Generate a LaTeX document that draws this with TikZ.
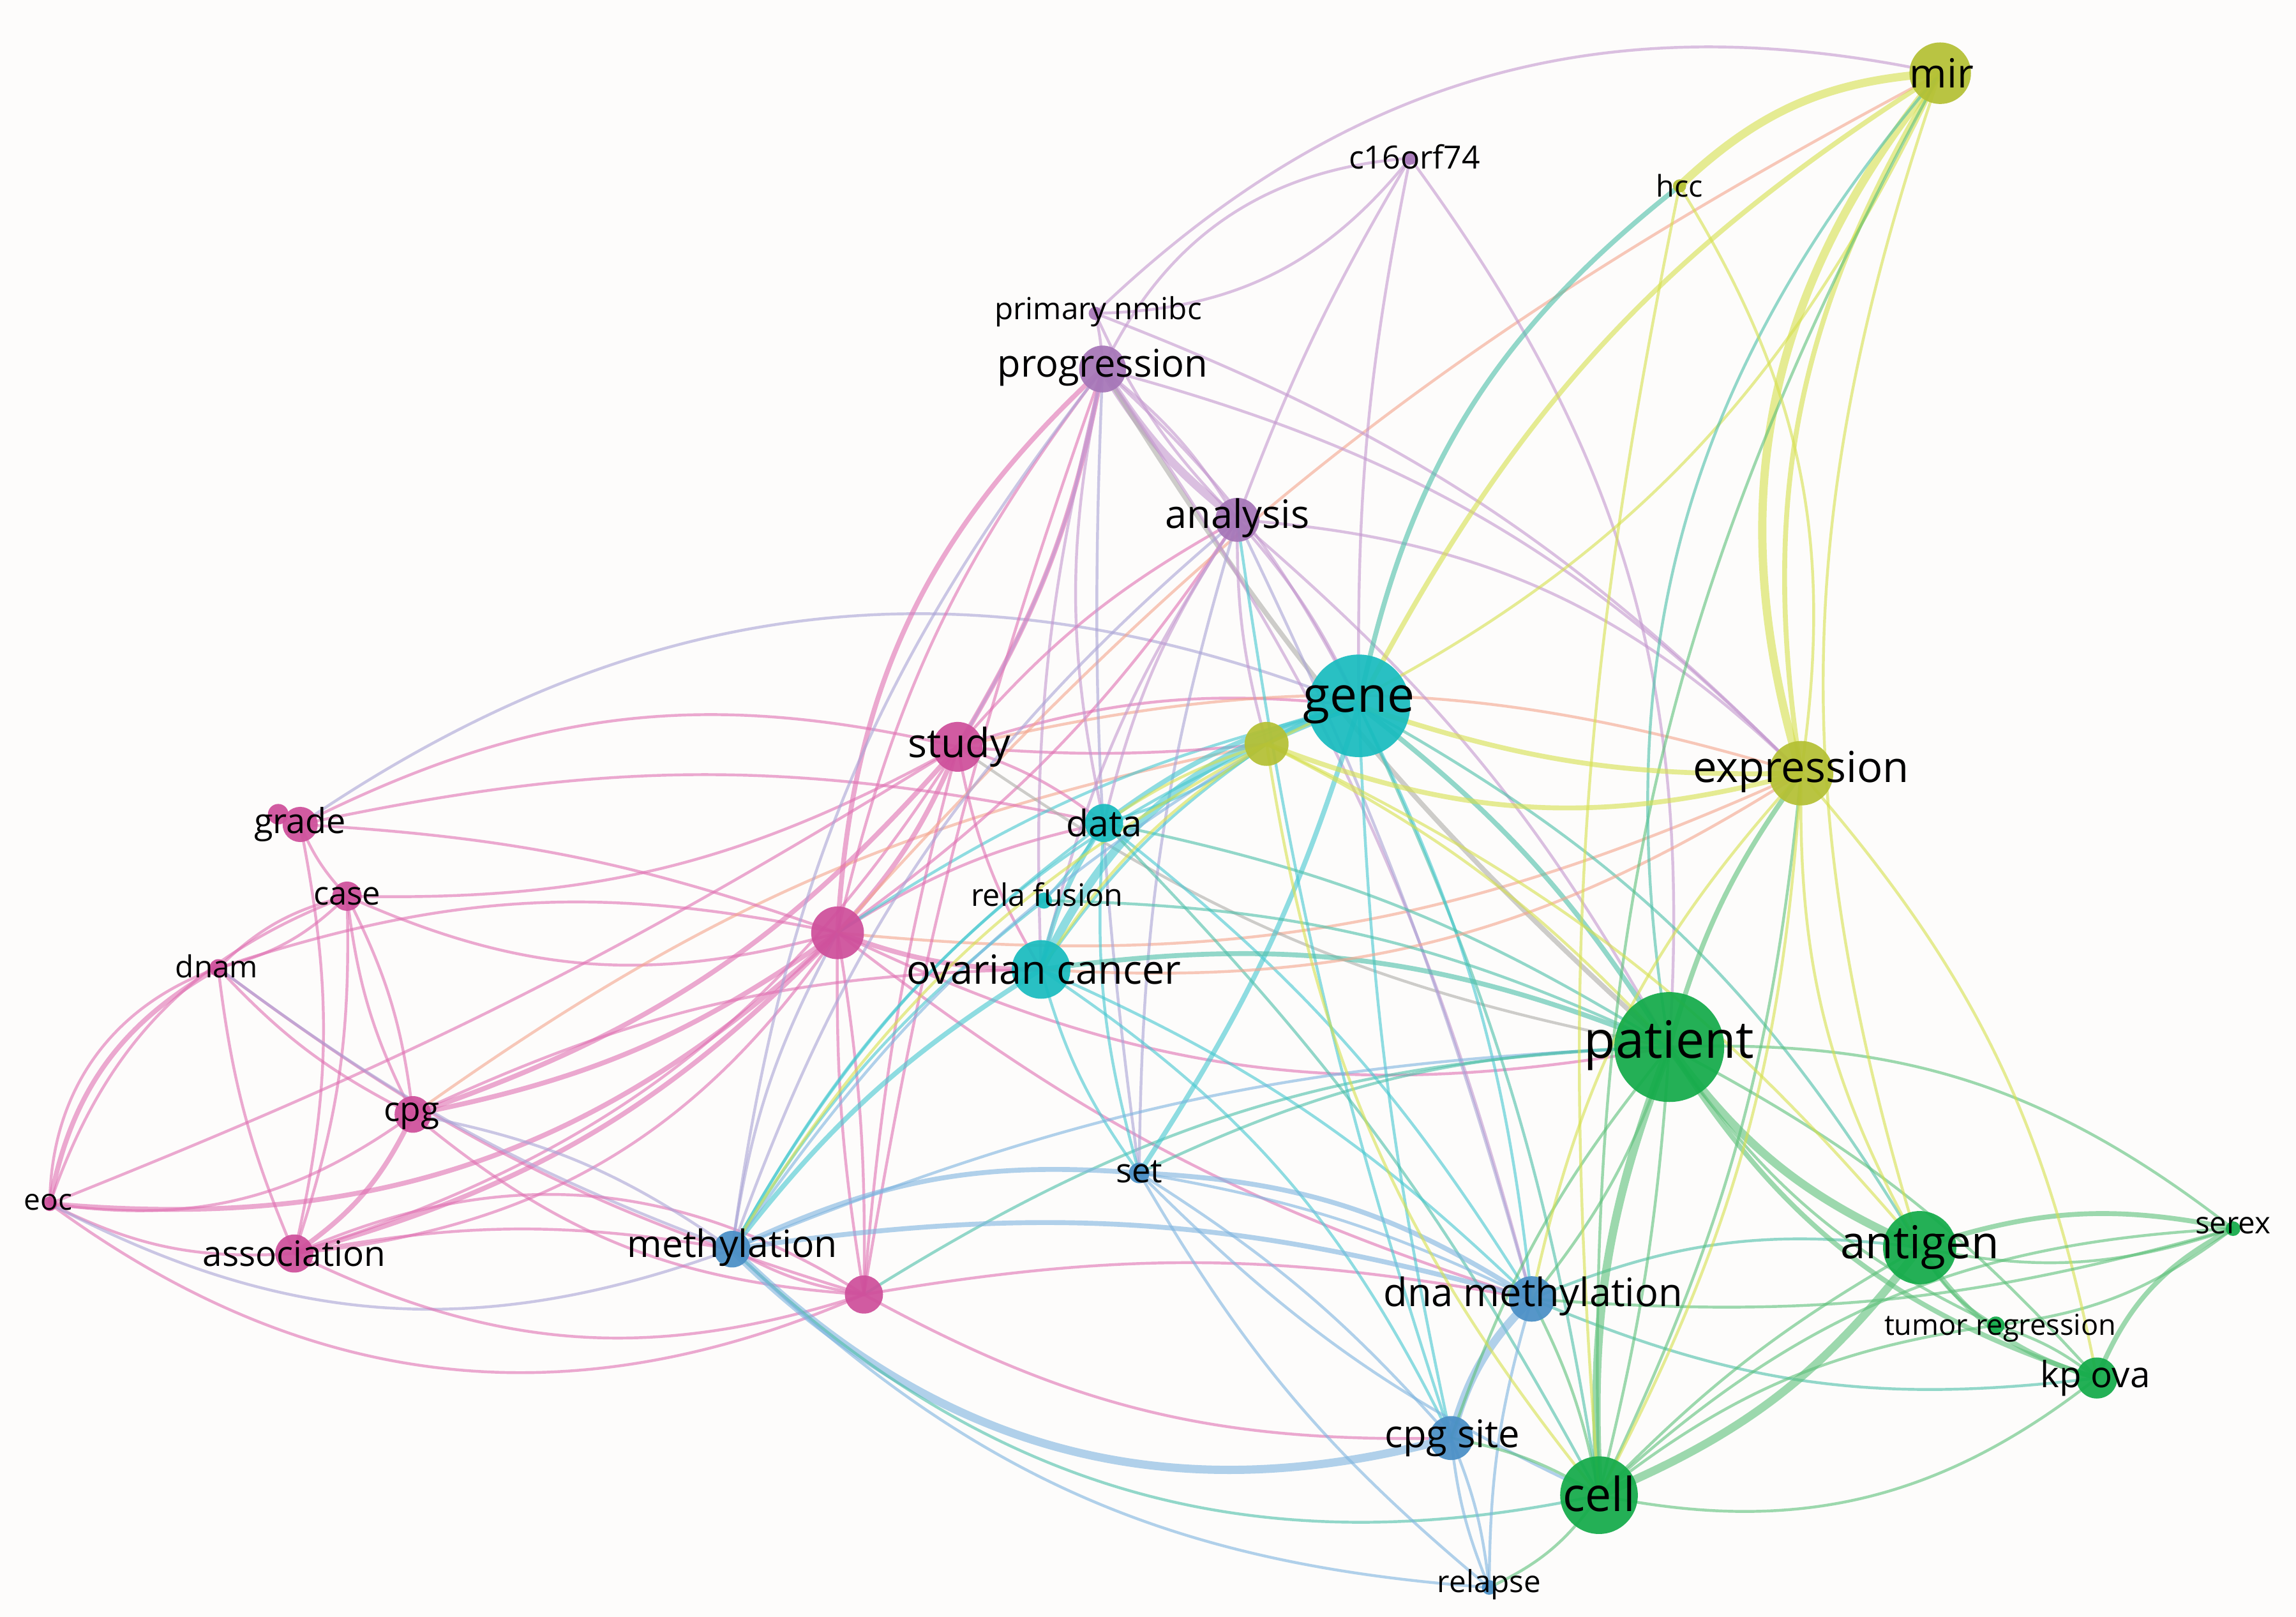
\documentclass[tikz,border=0pt]{standalone}
\usepackage{fontspec}
\setmainfont{Open Sans}
\definecolor{pinkN}{HTML}{CE4F9B}
\definecolor{purpN}{HTML}{A676B8}
\definecolor{cyanN}{HTML}{19BCBF}
\definecolor{blueN}{HTML}{4A8FC6}
\definecolor{greenN}{HTML}{14AB4A}
\definecolor{yellN}{HTML}{B4C034}
\definecolor{pinkE}{HTML}{E070B2}
\definecolor{purpE}{HTML}{C497CF}
\definecolor{cyanE}{HTML}{45C8D0}
\definecolor{blueE}{HTML}{7DB4DF}
\definecolor{greenE}{HTML}{5CC079}
\definecolor{yellE}{HTML}{D6E04C}
\definecolor{saE}{HTML}{F4A48C}
\definecolor{laE}{HTML}{A9A3D6}
\definecolor{teE}{HTML}{4CBFA8}
\definecolor{gyE}{HTML}{ADADA8}
\definecolor{bgC}{HTML}{FDFCFB}
\newcommand\ed[4][18]{\draw[edge,#2] (#3) to[bend right=#1] (#4);}
\newcommand\fs[1]{\fontsize{#1}{#1}\selectfont}
\begin{document}
\begin{tikzpicture}[x=0.01cm,y=-0.01cm,
  edge/.style={line width=0.55pt, opacity=0.6},
  w2/.style={line width=0.95pt},
  w3/.style={line width=1.6pt},
  pk/.style={draw=pinkE}, pu/.style={draw=purpE}, cy/.style={draw=cyanE},
  bl/.style={draw=blueE}, gr/.style={draw=greenE}, ye/.style={draw=yellE},
  sa/.style={draw=saE}, la/.style={draw=laE}, te/.style={draw=teE}, gy/.style={draw=gyE},
  nd/.style={circle, inner sep=0pt, opacity=0.93},
  lbl/.style={inner sep=0pt, text=black}]
\fill[bgC] (0,0) rectangle (1568,1104);
\useasboundingbox (0,0) rectangle (1568,1104);
% positions
\coordinate (mir) at (1325,50);
\coordinate (hcc) at (1147,127);
\coordinate (c16) at (963,108);
\coordinate (nmibc) at (748,214);
\coordinate (prog) at (753,252);
\coordinate (anal) at (845,355);
\coordinate (gene) at (928,482);
\coordinate (Y) at (865,508);
\coordinate (expr) at (1230,528);
\coordinate (study) at (654,510);
\coordinate (data) at (754,562);
\coordinate (grade) at (205,563);
\coordinate (grade2) at (190,556);
\coordinate (case) at (237,612);
\coordinate (dnam) at (149,661);
\coordinate (P1) at (572,637);
\coordinate (rela) at (713,615);
\coordinate (ovca) at (711,662);
\coordinate (patient) at (1140,715);
\coordinate (cpg) at (282,761);
\coordinate (eoc) at (34,822);
\coordinate (set) at (778,801);
\coordinate (meth) at (500,853);
\coordinate (assoc) at (201,856);
\coordinate (P2) at (590,884);
\coordinate (dnameth) at (1046,887);
\coordinate (antigen) at (1311,852);
\coordinate (serex) at (1525,839);
\coordinate (tumreg) at (1363,905);
\coordinate (kpova) at (1432,941);
\coordinate (cpgsite) at (991,982);
\coordinate (cell) at (1092,1021);
\coordinate (relapse) at (1017,1084);
% ---------- edges: pink cluster
\ed[25]{pk,w2}{dnam}{eoc}
\ed[35]{pk}{dnam}{eoc}
\ed[25]{pk}{case}{eoc}
\ed[5]{pk}{eoc}{study}
\ed[24]{pk,w2}{eoc}{P1}
\ed[22]{pk}{eoc}{cpg}
\ed[15]{pk}{eoc}{assoc}
\ed[30]{pk}{eoc}{P2}
\ed[24]{la}{eoc}{meth}
\ed[10]{pk}{grade}{case}
\ed[12]{pk}{assoc}{grade}
\ed[8]{pk}{dnam}{assoc}
\ed[10]{pk}{assoc}{case}
\ed[-10]{pk}{case}{cpg}
\ed[10]{pk}{case}{cpg}
\ed[10]{pk}{dnam}{cpg}
\ed[15]{pk}{case}{dnam}
\ed[15]{pk}{dnam}{case}
\ed[15]{pk,w2}{assoc}{cpg}
\ed[15]{pk,w2}{assoc}{P1}
\ed[25]{pk}{assoc}{P1}
\ed[12]{pk,w2}{cpg}{P1}
\ed[15]{pk,w2}{cpg}{study}
\ed[20]{pk}{assoc}{study}
\ed[20]{pk}{case}{P1}
\ed[15]{pk}{case}{study}
\ed[-15]{pk}{dnam}{P1}
\ed[10]{pk}{dnam}{P2}
\ed[8]{la}{dnam}{meth}
\ed[22]{pk}{assoc}{P2}
\ed[28]{pk}{P2}{assoc}
\ed[-10]{pk}{assoc}{meth}
\ed[-12]{la}{cpg}{meth}
\ed[18]{pk}{cpg}{P2}
\ed[-12]{sa}{cpg}{Y}
\ed[-12]{pk}{cpg}{ovca}
\ed[-20]{pk}{grade}{study}
\ed[-8]{pk}{grade}{P1}
\ed[-12]{pk}{grade}{data}
\ed[-28]{la}{grade}{gene}
\ed[10]{pk,w2}{P1}{study}
\ed[-5]{pk}{P1}{P2}
\ed[5]{pk}{P1}{P2}
\ed[22]{pk,w2}{prog}{P1}
\ed[12]{pk}{prog}{P1}
\ed[10]{pk}{P1}{anal}
\ed[10]{pk,w2}{P1}{ovca}
\ed[-10]{pk}{P1}{data}
\ed[-10]{cy}{P1}{gene}
\ed[15]{sa}{P1}{expr}
\ed[18]{pk}{P1}{patient}
\ed[10]{pk}{P1}{dnameth}
\ed[10]{la}{P1}{meth}
\ed[-10]{pk}{P2}{meth}
\ed[15]{pk}{P2}{cpgsite}
\ed[-15]{te}{P2}{patient}
\ed[-10]{pk}{P2}{dnameth}
\ed[5]{pk}{prog}{P2}
\ed[5]{pk}{study}{P2}
\ed[10]{pk,w2}{study}{prog}
\ed[-10]{pk}{study}{anal}
\ed[-12]{pk}{study}{gene}
\ed[5]{pk}{study}{Y}
\ed[-10]{pk}{study}{data}
\ed[10]{pk}{study}{ovca}
\ed[-15]{sa}{study}{expr}
\ed[12]{gy}{study}{patient}
\ed[10]{sa}{mir}{P1}
% ---------- purple
\ed[10]{pu,w3}{prog}{anal}
\ed[-10]{pu}{prog}{anal}
\ed[10]{pu}{nmibc}{anal}
\ed[5]{pu}{prog}{nmibc}
\ed[30]{pu}{c16}{prog}
\ed[25]{pu}{nmibc}{c16}
\ed[5]{pu}{c16}{anal}
\ed[6]{pu}{c16}{gene}
\ed[20]{pu}{patient}{c16}
\ed[28]{pu}{mir}{nmibc}
\ed[-10]{pu}{prog}{study}
\ed[12]{pu}{prog}{data}
\ed[8]{pu}{prog}{ovca}
\ed[-10]{pu}{prog}{gene}
\ed[8]{gy,w2}{prog}{patient}
\ed[-15]{pu}{prog}{expr}
\ed[-12]{pu}{nmibc}{expr}
\ed[15]{la}{prog}{meth}
\ed[5]{la}{prog}{set}
\ed[-10]{pu}{prog}{dnameth}
\ed[-8]{pu}{anal}{gene}
\ed[8]{pu}{anal}{Y}
\ed[10]{pu}{anal}{data}
\ed[10]{pu}{anal}{ovca}
\ed[15]{la}{anal}{meth}
\ed[8]{la}{anal}{set}
\ed[-10]{pu}{anal}{patient}
\ed[-20]{pu}{anal}{expr}
\ed[-5]{la}{anal}{dnameth}
\ed[5]{cy}{anal}{cpgsite}
% ---------- cyan
\ed[10]{cy,w2}{gene}{Y}
\ed[-10]{te,w2}{gene}{patient}
\ed[12]{cy,w2}{gene}{data}
\ed[25]{cy,w3}{gene}{ovca}
\ed[20]{cy}{gene}{meth}
\ed[-8]{cy,w2}{gene}{set}
\ed[-8]{te}{gene}{cell}
\ed[-10]{cy}{gene}{dnameth}
\ed[5]{cy}{gene}{cpgsite}
\ed[-15]{te}{gene}{antigen}
\ed[20]{te,w2}{hcc}{gene}
\ed[15]{ye,w2}{mir}{gene}
\ed[20]{ye}{Y}{mir}
\ed[10]{cy,w2}{data}{ovca}
\ed[10]{cy}{data}{Y}
\ed[-10]{te}{data}{patient}
\ed[10]{cy}{data}{set}
\ed[12]{cy}{data}{meth}
\ed[-10]{cy}{data}{dnameth}
\ed[-8]{te}{data}{cell}
\ed[-15]{te,w2}{ovca}{patient}
\ed[10]{cy,w2}{ovca}{meth}
\ed[10]{cy}{ovca}{set}
\ed[-10]{cy}{ovca}{dnameth}
\ed[-10]{cy}{ovca}{Y}
\ed[18]{sa}{ovca}{expr}
\ed[-15]{cy}{ovca}{cpgsite}
\ed[5]{cy}{rela}{data}
\ed[10]{cy}{rela}{meth}
\ed[12]{te}{patient}{rela}
% ---------- blue
\ed[-15]{bl,w2}{meth}{set}
\ed[-12]{bl,w2}{meth}{dnameth}
\ed[30]{bl,w3}{meth}{cpgsite}
\ed[28]{te}{meth}{cell}
\ed[-10]{bl}{meth}{patient}
\ed[20]{bl}{meth}{relapse}
\ed[-12]{bl}{meth}{Y}
\ed[-15]{bl,w2}{set}{dnameth}
\ed[-8]{bl}{set}{dnameth}
\ed[-8]{bl}{set}{cpgsite}
\ed[10]{bl}{set}{relapse}
\ed[-12]{te}{set}{patient}
\ed[10]{bl}{set}{cell}
\ed[15]{bl,w3}{dnameth}{cpgsite}
\ed[10]{gr}{dnameth}{patient}
\ed[-8]{gr}{dnameth}{cell}
\ed[8]{bl}{dnameth}{relapse}
\ed[-15]{te}{dnameth}{antigen}
\ed[15]{te}{dnameth}{kpova}
\ed[-8]{bl}{cpgsite}{relapse}
\ed[8]{bl}{cpgsite}{relapse}
\ed[-10]{gr}{cpgsite}{cell}
\ed[-10]{gr}{cpgsite}{patient}
\ed[15]{gr}{relapse}{cell}
% ---------- green
\ed[12]{gr,w3}{patient}{cell}
\ed[-5]{gr}{patient}{cell}
\ed[15]{gr,w3}{patient}{antigen}
\ed[20]{gr,w2}{patient}{kpova}
\ed[-10]{gr}{patient}{kpova}
\ed[15]{gr}{patient}{tumreg}
\ed[-20]{gr}{patient}{serex}
\ed[10]{gr,w2}{expr}{patient}
\ed[-10]{ye}{Y}{patient}
\ed[15]{gr,w3}{cell}{antigen}
\ed[8]{gr}{antigen}{cell}
\ed[20]{gr,w2}{antigen}{kpova}
\ed[-15]{gr,w2}{antigen}{serex}
\ed[15]{gr}{antigen}{serex}
\ed[15]{gr}{antigen}{tumreg}
\ed[25]{gr}{cell}{kpova}
\ed[-15]{gr}{cell}{tumreg}
\ed[10]{gr}{cell}{expr}
\ed[-20]{gr,w2}{kpova}{serex}
\ed[15]{gr}{tumreg}{serex}
\ed[10]{gr}{kpova}{tumreg}
\ed[15]{ye}{kpova}{expr}
\ed[-20]{gr}{cell}{serex}
\ed[10]{gr}{dnameth}{serex}
% ---------- yellow
\ed[28]{ye,w3}{mir}{expr}
\ed[20]{ye,w2}{mir}{expr}
\ed[15]{gr}{mir}{cell}
\ed[18]{ye}{mir}{antigen}
\ed[25]{te}{mir}{patient}
\ed[20]{ye,w3}{mir}{hcc}
\ed[20]{ye}{expr}{hcc}
\ed[8]{ye}{hcc}{cell}
\ed[18]{ye,w2}{Y}{expr}
\ed[10]{ye,w2}{gene}{expr}
\ed[15]{ye}{expr}{antigen}
\ed[-12]{ye}{expr}{cell}
\ed[15]{ye}{expr}{dnameth}
\ed[15]{ye}{Y}{cell}
\ed[12]{ye}{Y}{ovca}
\ed[8]{ye}{Y}{data}
\ed[15]{ye}{Y}{meth}
\ed[-12]{ye}{Y}{antigen}
% ---------- nodes
\node[nd, fill=yellN, minimum size=0.42cm] (mir-n) at (mir) {};
\node[nd, fill=yellN, minimum size=0.09cm] (hcc-n) at (hcc) {};
\node[nd, fill=purpN, minimum size=0.09cm] (c16-n) at (c16) {};
\node[nd, fill=purpN, minimum size=0.09cm] (nmibc-n) at (nmibc) {};
\node[nd, fill=purpN, minimum size=0.32cm] (prog-n) at (prog) {};
\node[nd, fill=purpN, minimum size=0.30cm] (anal-n) at (anal) {};
\node[nd, fill=cyanN, minimum size=0.70cm] (gene-n) at (gene) {};
\node[nd, fill=yellN, minimum size=0.30cm] (Y-n) at (Y) {};
\node[nd, fill=yellN, minimum size=0.44cm] (expr-n) at (expr) {};
\node[nd, fill=pinkN, minimum size=0.34cm] (study-n) at (study) {};
\node[nd, fill=cyanN, minimum size=0.26cm] (data-n) at (data) {};
\node[nd, fill=pinkN, minimum size=0.14cm] (grade2-n) at (grade2) {};
\node[nd, fill=pinkN, minimum size=0.24cm] (grade-n) at (grade) {};
\node[nd, fill=pinkN, minimum size=0.20cm] (case-n) at (case) {};
\node[nd, fill=pinkN, minimum size=0.12cm] (dnam-n) at (dnam) {};
\node[nd, fill=pinkN, minimum size=0.36cm] (P1-n) at (P1) {};
\node[nd, fill=cyanN, minimum size=0.11cm] (rela-n) at (rela) {};
\node[nd, fill=cyanN, minimum size=0.40cm] (ovca-n) at (ovca) {};
\node[nd, fill=greenN, minimum size=0.75cm] (patient-n) at (patient) {};
\node[nd, fill=pinkN, minimum size=0.25cm] (cpg-n) at (cpg) {};
\node[nd, fill=pinkN, minimum size=0.10cm] (eoc-n) at (eoc) {};
\node[nd, fill=blueN, minimum size=0.14cm] (set-n) at (set) {};
\node[nd, fill=blueN, minimum size=0.25cm] (meth-n) at (meth) {};
\node[nd, fill=pinkN, minimum size=0.26cm] (assoc-n) at (assoc) {};
\node[nd, fill=pinkN, minimum size=0.26cm] (P2-n) at (P2) {};
\node[nd, fill=blueN, minimum size=0.31cm] (dnameth-n) at (dnameth) {};
\node[nd, fill=greenN, minimum size=0.50cm] (antigen-n) at (antigen) {};
\node[nd, fill=greenN, minimum size=0.10cm] (serex-n) at (serex) {};
\node[nd, fill=greenN, minimum size=0.12cm] (tumreg-n) at (tumreg) {};
\node[nd, fill=greenN, minimum size=0.28cm] (kpova-n) at (kpova) {};
\node[nd, fill=blueN, minimum size=0.30cm] (cpgsite-n) at (cpgsite) {};
\node[nd, fill=greenN, minimum size=0.53cm] (cell-n) at (cell) {};
\node[nd, fill=blueN, minimum size=0.10cm] (relapse-n) at (relapse) {};
% ---------- labels
\node[lbl, font=\fs{7.8}] (mir-l) at (1326,50) {mir};
\node[lbl, font=\fs{5.8}] (hcc-l) at (1147,127) {hcc};
\node[lbl, font=\fs{6.2}] (c16-l) at (966,107) {c16orf74};
\node[lbl, font=\fs{5.9}] (nmibc-l) at (750,213) {primary nmibc};
\node[lbl, font=\fs{7.4}] (prog-l) at (753,251) {progression};
\node[lbl, font=\fs{7.6}] (anal-l) at (845,354) {analysis};
\node[lbl, font=\fs{9.5}] (gene-l) at (928,481) {gene};
\node[lbl, font=\fs{8.3}] (expr-l) at (1230,527) {expression};
\node[lbl, font=\fs{7.8}] (study-l) at (655,510) {study};
\node[lbl, font=\fs{7.1}] (data-l) at (754,562) {data};
\node[lbl, font=\fs{6.7}] (grade-l) at (205,563) {grade};
\node[lbl, font=\fs{6.3}] (case-l) at (237,612) {case};
\node[lbl, font=\fs{5.9}] (dnam-l) at (148,660) {dnam};
\node[lbl, font=\fs{6.0}] (rela-l) at (715,611) {rela fusion};
\node[lbl, font=\fs{7.8}] (ovca-l) at (713,662) {ovarian cancer};
\node[lbl, font=\fs{10}] (patient-l) at (1140,714) {patient};
\node[lbl, font=\fs{6.6}] (cpg-l) at (281,762) {cpg};
\node[lbl, font=\fs{5.7}] (eoc-l) at (33,821) {eoc};
\node[lbl, font=\fs{6.5}] (set-l) at (778,800) {set};
\node[lbl, font=\fs{7.3}] (meth-l) at (500,852) {methylation};
\node[lbl, font=\fs{6.8}] (assoc-l) at (201,856) {association};
\node[lbl, font=\fs{7.6}] (dnameth-l) at (1047,885) {dna methylation};
\node[lbl, font=\fs{8.8}] (antigen-l) at (1311,852) {antigen};
\node[lbl, font=\fs{5.9}] (serex-l) at (1525,837) {serex};
\node[lbl, font=\fs{5.6}] (tumreg-l) at (1366,907) {tumor regression};
\node[lbl, font=\fs{7.0}] (kpova-l) at (1431,941) {kp ova};
\node[lbl, font=\fs{7.4}] (cpgsite-l) at (992,982) {cpg site};
\node[lbl, font=\fs{9.1}] (cell-l) at (1092,1020) {cell};
\node[lbl, font=\fs{5.9}] (relapse-l) at (1017,1082) {relapse};
\end{tikzpicture}
\end{document}
